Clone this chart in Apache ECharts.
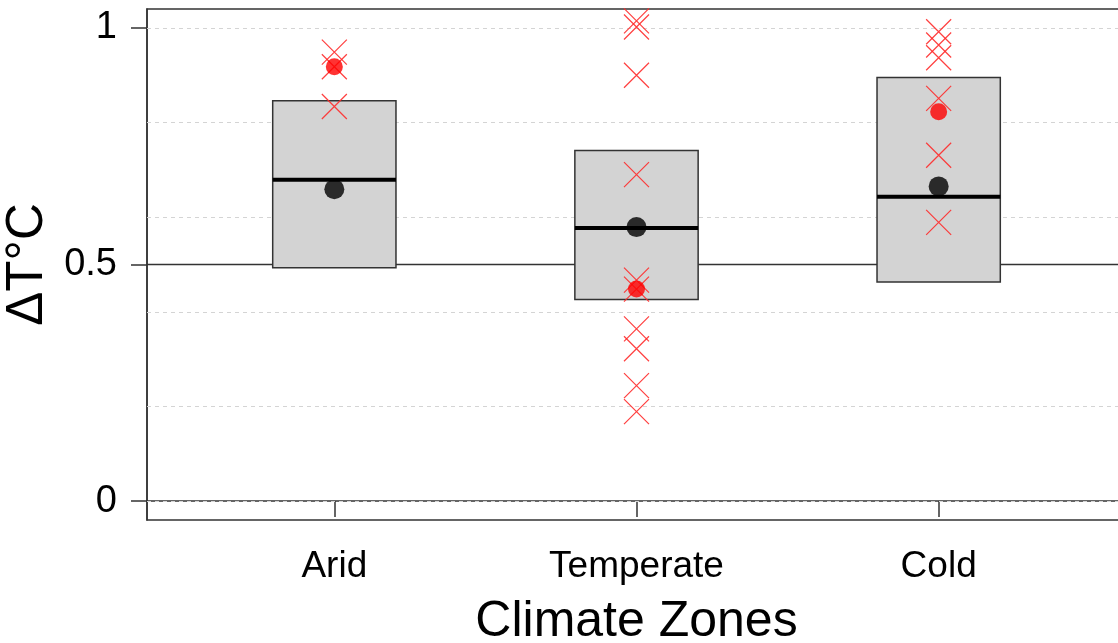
<!DOCTYPE html>
<html>
<head>
<meta charset="utf-8">
<script src="https://cdn.jsdelivr.net/npm/echarts@6/dist/echarts.min.js"></script>
<style>
    html, body { margin: 0; padding: 0; background: #fff; }
    #chart { width: 1118px; height: 643px; }
</style>
</head>
<body>
<div id="chart"></div>
<script>
// climate zones and the box stats
var categories = ['Arid', 'Temperate', 'Cold'];
var boxLow = [0.493, 0.426, 0.463];
var boxHigh = [0.846, 0.741, 0.895];
var boxMedian = [0.679, 0.577, 0.643];
var meanValues = [0.659, 0.579, 0.665];
var redValues = [0.918, 0.448, 0.823];

// individual values (crosses) per zone
var aridPoints = [0.949, 0.918, 0.834];
var temperatePoints = [1.015, 1.002, 0.900, 0.690, 0.467, 0.448, 0.364, 0.322, 0.244, 0.189];
var coldPoints = [0.992, 0.964, 0.937, 0.851, 0.731, 0.589];

var yTicks = [0, 0.5, 1];
var gridValues = [0, 0.2, 0.4, 0.6, 0.8, 1];
var refLine = 0.5;

var font = "'Liberation Sans', Arial, sans-serif";

var initChart = function () {
    var chart = echarts.init(document.getElementById('chart'));

    var boxData = categories.map(function (c, i) {
        return [i + 1, boxLow[i], boxHigh[i], boxMedian[i]];
    });
    var crossData = [];
    [aridPoints, temperatePoints, coldPoints].forEach(function (arr, i) {
        arr.forEach(function (v) { crossData.push([i + 1, v]); });
    });
    var meanData = meanValues.map(function (v, i) { return [i + 1, v]; });
    var redData = redValues.map(function (v, i) { return [i + 1, v]; });

    var markData = gridValues.map(function (v) {
        return { yAxis: v, lineStyle: { color: '#d4d4d4', type: [4, 4], width: 1 } };
    });
    markData.push({ yAxis: refLine, lineStyle: { color: '#333', type: 'solid', width: 1.3 } });

    var halfWidth = 0.204;

    var option = {
        animation: false,
        grid: {
            left: 147, right: -8, top: 9, bottom: 123,
            outerBoundsMode: 'none',
            containLabel: false,
            show: true, borderColor: '#333', borderWidth: 1.5
        },
        xAxis: {
            type: 'value',
            min: 0.38,
            max: 3.62,
            splitLine: { show: false },
            axisLine: { show: true, lineStyle: { color: '#333', width: 1.5 } },
            axisTick: { show: true, customValues: [1, 2, 3], length: 16, lineStyle: { color: '#333', width: 1.5 } },
            axisLabel: {
                customValues: [1, 2, 3],
                formatter: function (v) { return categories[Math.round(v) - 1]; },
                fontSize: 37, color: '#000', fontFamily: font, margin: 28
            },
            name: 'Climate Zones',
            nameLocation: 'middle',
            nameGap: 77,
            nameMoveOverlap: false,
            nameTextStyle: { fontSize: 50, color: '#000', fontFamily: font }
        },
        yAxis: {
            type: 'value',
            min: -0.04,
            max: 1.04,
            splitLine: { show: false },
            axisLine: { show: true, lineStyle: { color: '#333', width: 1.5 } },
            axisTick: { show: true, customValues: yTicks, length: 16, lineStyle: { color: '#333', width: 1.5 } },
            axisLabel: {
                customValues: yTicks,
                formatter: function (v) { return String(v); },
                fontSize: 38, color: '#000', fontFamily: font, margin: 30
            },
            name: 'ΔT°C',
            nameLocation: 'middle',
            nameGap: 12,
            nameRotate: 90,
            nameTextStyle: { fontSize: 51, color: '#000', fontFamily: font }
        },
        series: [
            {
                type: 'line',
                data: [],
                z: 1,
                markLine: {
                    silent: true,
                    z: 1,
                    symbol: 'none',
                    label: { show: false },
                    data: markData
                }
            },
            {
                type: 'custom',
                z: 3,
                data: boxData,
                renderItem: function (params, api) {
                    var x = api.value(0);
                    var lt = api.coord([x - halfWidth, api.value(2)]);
                    var rb = api.coord([x + halfWidth, api.value(1)]);
                    var ml = api.coord([x - halfWidth, api.value(3)]);
                    var mr = api.coord([x + halfWidth, api.value(3)]);
                    return {
                        type: 'group',
                        children: [
                            {
                                type: 'rect',
                                shape: { x: lt[0], y: lt[1], width: rb[0] - lt[0], height: rb[1] - lt[1] },
                                style: { fill: '#d3d3d3', stroke: '#333', lineWidth: 1.5 }
                            },
                            {
                                type: 'line',
                                shape: { x1: ml[0], y1: ml[1], x2: mr[0], y2: mr[1] },
                                style: { stroke: '#000', lineWidth: 4 }
                            }
                        ]
                    };
                }
            },
            {
                type: 'scatter',
                z: 4,
                data: crossData,
                symbol: 'path://M0 0L10 10M10 0L0 10',
                symbolSize: 25,
                itemStyle: { color: 'none', borderColor: '#ff2a2a', borderWidth: 1.2, opacity: 0.9 }
            },
            {
                type: 'scatter',
                z: 5,
                data: meanData,
                symbol: 'circle',
                symbolSize: 20,
                itemStyle: { color: '#000' }
            },
            {
                type: 'scatter',
                z: 5,
                data: redData,
                symbol: 'circle',
                symbolSize: 17,
                itemStyle: { color: '#ff0000' }
            }
        ]
    };
    chart.setOption(option);
};

initChart();
</script>
</body>
</html>
